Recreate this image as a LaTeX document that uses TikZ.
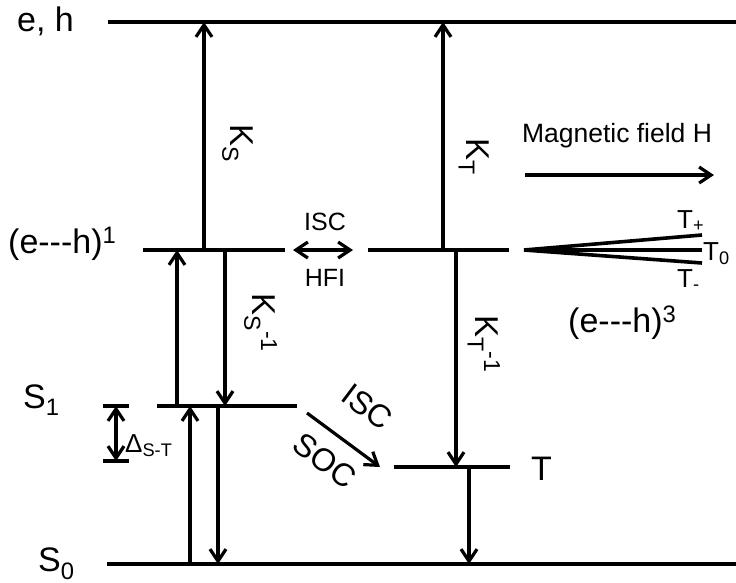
\documentclass[tikz,border=0pt]{standalone}
\usepackage{fontspec}
\setmainfont{Liberation Sans}
\usetikzlibrary{arrows.meta}
\tikzset{
  levelline/.style={line width=3.6pt},
  arr/.style={line width=3.2pt,-{Straight Barb[length=12pt,width=16pt]}},
  darr/.style={line width=3.2pt,{Straight Barb[length=12pt,width=16pt]}-{Straight Barb[length=12pt,width=16pt]}},
  txt/.style={inner sep=0pt,font=\fontsize{34}{34}\selectfont},
  ktxt/.style={inner sep=0pt,font=\fontsize{33}{33}\selectfont,rotate=-90,anchor=base west},
  midtxt/.style={inner sep=0pt,font=\fontsize{25}{25}\selectfont},
  ttxt/.style={inner sep=0pt,font=\fontsize{26}{26}\selectfont,anchor=base west},
  dtxt/.style={inner sep=0pt,font=\fontsize{32}{32}\selectfont,rotate=-37},
}
\begin{document}
\begin{tikzpicture}[x=1pt,y=-1pt]
\useasboundingbox (0,0) rectangle (736,582);
% level coordinates
\coordinate (ehL) at (108,22);   \coordinate (ehR) at (736,22);
\coordinate (e1L) at (143,250);  \coordinate (e1R) at (285,250);
\coordinate (e3L) at (368,250);  \coordinate (e3R) at (509,250);
\coordinate (s1L) at (157,406);  \coordinate (s1R) at (297,406);
\coordinate (tL) at (394,467);   \coordinate (tR) at (510,467);
\coordinate (s0L) at (107,564);  \coordinate (s0R) at (736,564);
% levels
\draw[levelline] (ehL) -- (ehR);
\draw[levelline] (e1L) -- (e1R);
\draw[levelline] (e3L) -- (e3R);
\draw[levelline] (s1L) -- (s1R);
\draw[levelline] (tL) -- (tR);
\draw[levelline] (s0L) -- (s0R);
% triplet fan
\coordinate (fan) at (524,250);
\coordinate (tp) at (702,235);
\coordinate (tz) at (702,250);
\coordinate (tm) at (702,263);
\draw[levelline] (fan) -- (tp);
\draw[levelline] (fan) -- (tz);
\draw[levelline] (fan) -- (tm);
% delta bars
\coordinate (dTL) at (103,406); \coordinate (dTR) at (129,406);
\coordinate (dBL) at (103,461); \coordinate (dBR) at (129,461);
\draw[levelline] (dTL) -- (dTR);
\draw[levelline] (dBL) -- (dBR);
\coordinate (dT) at (116,406); \coordinate (dB) at (116,461);
\draw[darr] (dT) -- (dB);
% vertical arrows
\coordinate (a1s) at (204,250); \coordinate (a1e) at (204,22);
\draw[arr] (a1s) -- (a1e);
\coordinate (a2s) at (443,250); \coordinate (a2e) at (443,22);
\draw[arr] (a2s) -- (a2e);
\coordinate (a3s) at (177,406); \coordinate (a3e) at (177,250);
\draw[arr] (a3s) -- (a3e);
\coordinate (a4s) at (225,250); \coordinate (a4e) at (225,406);
\draw[arr] (a4s) -- (a4e);
\coordinate (a5s) at (456,250); \coordinate (a5e) at (456,467);
\draw[arr] (a5s) -- (a5e);
\coordinate (a6s) at (190,564); \coordinate (a6e) at (190,406);
\draw[arr] (a6s) -- (a6e);
\coordinate (a7s) at (218,406); \coordinate (a7e) at (218,564);
\draw[arr] (a7s) -- (a7e);
\coordinate (a8s) at (469,467); \coordinate (a8e) at (469,564);
\draw[arr] (a8s) -- (a8e);
% ISC SOC diagonal
\coordinate (isS) at (307,413); \coordinate (isE) at (380,467);
\draw[arr] (isS) -- (isE);
% ISC HFI double
\coordinate (hfL) at (293,250); \coordinate (hfR) at (353,250);
\draw[darr] (hfL) -- (hfR);
% magnetic field
\coordinate (mfL) at (525,175); \coordinate (mfR) at (714,175);
\draw[arr] (mfL) -- (mfR);
% labels
\node[txt,anchor=base west] (leh) at (17,31) {e, h};
\node[txt,anchor=base west] (le1) at (8,253) {(e-{}-{}-h)\textsuperscript{1}};
\node[txt,anchor=base west] (ls1) at (23,408) {S\textsubscript{1}};
\node[txt,anchor=base west] (ls0) at (38,571) {S\textsubscript{0}};
\node[txt,anchor=base west] (lt) at (531,480) {T};
\node[txt,anchor=base west] (le3) at (568,332) {(e-{}-{}-h)\textsuperscript{3}};
\node[ktxt] (kS) at (230,124) {K\textsubscript{S}};
\node[ktxt] (kT) at (466,138) {K\textsubscript{T}};
\node[ktxt] (kS1) at (252,293) {K\textsubscript{S}\textsuperscript{-1}};
\node[ktxt] (kT1) at (475,315) {K\textsubscript{T}\textsuperscript{-1}};
\node[midtxt] (isc1) at (325,222) {ISC};
\node[midtxt] (hfi) at (325,278) {HFI};
\node[inner sep=0pt,font=\fontsize{26.5}{26.5}\selectfont] (mf) at (617,136) {Magnetic field H};
\node[ttxt] (ltp) at (677,228) {T\textsubscript{+}};
\node[ttxt] (ltz) at (703,260) {T\textsubscript{0}};
\node[ttxt] (ltm) at (677,287) {T\textsubscript{-}};
\node[inner sep=0pt,anchor=base west,font=\fontsize{26}{26}\selectfont] (ldelta) at (125,452) {Δ\textsubscript{S-T}};
\node[dtxt] (isc2) at (367,407) {ISC};
\node[dtxt] (soc) at (325,461) {SOC};
\end{tikzpicture}
\end{document}
